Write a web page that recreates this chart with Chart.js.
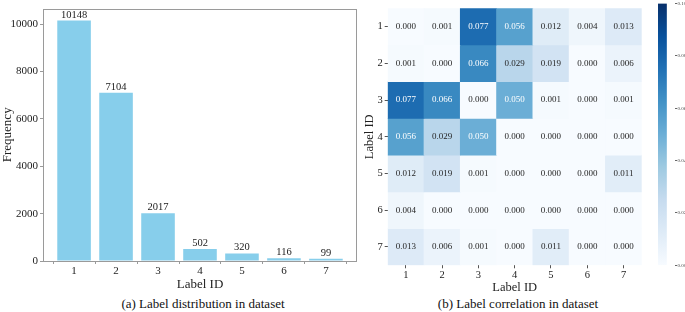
<!DOCTYPE html>
<html><head><meta charset="utf-8">
<script src="https://cdn.jsdelivr.net/npm/chart.js@4/dist/chart.umd.min.js"></script>
<style>
html,body{margin:0;padding:0;background:#fff;width:685px;height:312px;overflow:hidden;}
.box{position:absolute;}
.cap{position:absolute;font-family:"Liberation Serif","Times New Roman",serif;font-size:13px;color:#111;white-space:nowrap;transform:translateX(-50%);}
</style></head>
<body>
<div class="box" style="left:0;top:0;width:362px;height:292px;"><canvas id="bar"></canvas></div>
<div class="box" style="left:362px;top:0;width:293px;height:295px;"><canvas id="heat"></canvas></div>
<div class="box" style="left:645px;top:0;width:40px;height:295px;"><canvas id="cbar"></canvas></div>
<div class="cap" style="left:203px;top:296px;">(a) Label distribution in dataset</div>
<div class="cap" style="left:518px;top:296px;">(b) Label correlation in dataset</div>
<script>
// ---- data ----
const labelIds = ['1','2','3','4','5','6','7'];
const frequency = [10148, 7104, 2017, 502, 320, 116, 99];
const freqTicks = [0, 2000, 4000, 6000, 8000, 10000];
const corrRow1 = [0.000, 0.001, 0.077, 0.056, 0.012, 0.004, 0.013];
const corrRow2 = [0.001, 0.000, 0.066, 0.029, 0.019, 0.000, 0.006];
const corrRow3 = [0.077, 0.066, 0.000, 0.050, 0.001, 0.000, 0.001];
const corrRow4 = [0.056, 0.029, 0.050, 0.000, 0.000, 0.000, 0.000];
const corrRow5 = [0.012, 0.019, 0.001, 0.000, 0.000, 0.000, 0.011];
const corrRow6 = [0.004, 0.000, 0.000, 0.000, 0.000, 0.000, 0.000];
const corrRow7 = [0.013, 0.006, 0.001, 0.000, 0.011, 0.000, 0.000];
const corrRows = [corrRow1, corrRow2, corrRow3, corrRow4, corrRow5, corrRow6, corrRow7];
const colorbarTicks = [0.00, 0.02, 0.04, 0.06, 0.08, 0.10];

const SERIF = '"Liberation Serif","Times New Roman",serif';
const TXT = '#222';

// Blues colormap
const blues = ['#f7fbff','#deebf7','#c6dbef','#9ecae1','#6baed6','#4292c6','#2171b5','#08519c','#08306b'];
function hex(h){return [parseInt(h.substr(1,2),16),parseInt(h.substr(3,2),16),parseInt(h.substr(5,2),16)];}
function bluesRGB(t){
  t=Math.max(0,Math.min(1,t));
  const p=t*(blues.length-1); const i=Math.min(Math.floor(p),blues.length-2); const f=p-i;
  const a=hex(blues[i]), b=hex(blues[i+1]);
  return a.map((v,k)=>Math.round(v+(b[k]-v)*f));
}
function rgbStr(c){return 'rgb('+c[0]+','+c[1]+','+c[2]+')';}
function lum(c){
  const l=c.map(v=>{v/=255;return v<=0.03928?v/12.92:Math.pow((v+0.055)/1.055,2.4);});
  return 0.2126*l[0]+0.7152*l[1]+0.0722*l[2];
}
const VMAX = 0.10;

// ---- bar chart ----
const framePlugin = {
  id:'frame',
  afterDatasetsDraw(chart){
    const a=chart.chartArea, ctx=chart.ctx;
    ctx.save(); ctx.strokeStyle='#9a9a9a'; ctx.lineWidth=1;
    ctx.strokeRect(Math.round(a.left)+0.5, Math.round(a.top)+0.5, Math.round(a.right-a.left)-1, Math.round(a.bottom-a.top));
    ctx.restore();
  }
};
const barLabelPlugin = {
  id:'barLabels',
  afterDatasetsDraw(chart){
    const ctx=chart.ctx; const meta=chart.getDatasetMeta(0);
    ctx.save(); ctx.font='10.5px '+SERIF; ctx.fillStyle=TXT; ctx.textAlign='center'; ctx.textBaseline='bottom';
    meta.data.forEach((el,i)=>{ ctx.fillText(String(frequency[i]), el.x, el.y-0.5); });
    ctx.restore();
  }
};
new Chart(document.getElementById('bar'), {
  type:'bar',
  data:{ datasets:[{ data: frequency.map((v,i)=>({x:Number(labelIds[i]), y:v})), backgroundColor:'#87ceeb', borderWidth:0, barPercentage:0.8, categoryPercentage:1 }]},
  options:{
    responsive:true, maintainAspectRatio:false, animation:false, devicePixelRatio:1,
    layout:{padding:{top:2,right:5,left:0,bottom:0}},
    plugins:{legend:{display:false},tooltip:{enabled:false}},
    scales:{
      x:{ type:'linear', min:0.26, max:7.74, offset:false,
          afterBuildTicks(s){ s.ticks = labelIds.map(l=>({value:Number(l)})); },
          ticks:{ font:{family:SERIF,size:11}, color:TXT, padding:1, callback:(v)=>labelIds[v-1] },
          grid:{ display:true, drawOnChartArea:false, drawTicks:true, tickLength:3, color:'#9a9a9a' },
          border:{display:false},
          title:{ display:true, text:'Label ID', font:{family:SERIF,size:13}, color:TXT, padding:{top:1,bottom:0} },
          afterFit(s){ s.height = 31; }
      },
      y:{ min:0, max:10655,
          afterBuildTicks(s){ s.ticks = freqTicks.map(v=>({value:v})); },
          ticks:{ font:{family:SERIF,size:11}, color:TXT, padding:2, callback:(v)=>String(v) },
          grid:{ display:true, drawOnChartArea:false, drawTicks:true, tickLength:3, color:'#9a9a9a' },
          border:{display:false},
          title:{ display:true, text:'Frequency', font:{family:SERIF,size:13}, color:TXT, padding:{top:0,bottom:0} },
          afterFit(s){ s.width = 43; }
      }
    }
  },
  plugins:[framePlugin, barLabelPlugin]
});

// ---- heatmap ----
const heatDatasets = corrRows.map((row,r)=>({
  data: row.map(()=>[r+0.5, r+1.5]),
  backgroundColor: row.map(v=>rgbStr(bluesRGB(v/VMAX))),
  borderWidth:0, barPercentage:1, categoryPercentage:1, grouped:false
}));
const cellTextPlugin = {
  id:'cellText',
  afterDatasetsDraw(chart){
    const ctx=chart.ctx;
    ctx.save(); ctx.font='9px '+SERIF; ctx.textAlign='center'; ctx.textBaseline='middle';
    corrRows.forEach((row,r)=>{
      const meta=chart.getDatasetMeta(r);
      meta.data.forEach((el,c)=>{
        const v=row[c]; const col=bluesRGB(v/VMAX);
        ctx.fillStyle = lum(col)>0.408 ? '#262626' : '#ffffff';
        ctx.fillText(v.toFixed(3), el.x, (el.y+el.base)/2);
      });
    });
    ctx.restore();
  }
};
new Chart(document.getElementById('heat'), {
  type:'bar',
  data:{ labels: labelIds, datasets: heatDatasets },
  options:{
    responsive:true, maintainAspectRatio:false, animation:false, devicePixelRatio:1,
    layout:{padding:{top:1.7,right:13.3,left:0,bottom:0}},
    plugins:{legend:{display:false},tooltip:{enabled:false}},
    scales:{
      x:{ type:'category', offset:true,
          ticks:{ font:{family:SERIF,size:10.5}, color:TXT, padding:1 },
          grid:{ display:true, offset:false, drawOnChartArea:false, drawTicks:true, tickLength:3, color:'#555' },
          border:{display:false},
          title:{ display:true, text:'Label ID', font:{family:SERIF,size:12.5}, color:TXT, padding:{top:0,bottom:0} },
          afterFit(s){ s.height = 29.7; }
      },
      y:{ type:'linear', reverse:true, min:0.5, max:7.5,
          afterBuildTicks(s){ s.ticks = labelIds.map(l=>({value:Number(l)})); },
          ticks:{ font:{family:SERIF,size:10.5}, color:TXT, padding:2, callback:(v)=>labelIds[v-1] },
          grid:{ display:true, drawOnChartArea:false, drawTicks:true, tickLength:3, color:'#555' },
          border:{display:false},
          title:{ display:true, text:'Label ID', font:{family:SERIF,size:12.5}, color:TXT, padding:{top:0,bottom:0} },
          afterFit(s){ s.width = 25.7; }
      }
    }
  },
  plugins:[cellTextPlugin]
});

// ---- colorbar ----
new Chart(document.getElementById('cbar'), {
  type:'bar',
  data:{ labels:[''], datasets:[{ data:[[0, VMAX]], borderWidth:0, barPercentage:1, categoryPercentage:1,
    backgroundColor(ctx){
      const a=ctx.chart.chartArea; if(!a) return '#6baed6';
      const g=ctx.chart.ctx.createLinearGradient(0,a.bottom,0,a.top);
      blues.forEach((c,i)=>g.addColorStop(i/(blues.length-1), c));
      return g;
    } }]},
  options:{
    responsive:true, maintainAspectRatio:false, animation:false, devicePixelRatio:1,
    layout:{padding:{top:1.7,right:0,left:13,bottom:29.7}},
    plugins:{legend:{display:false},tooltip:{enabled:false}},
    scales:{
      x:{ display:false, offset:false },
      y:{ position:'right', min:0, max:VMAX,
          afterBuildTicks(s){ s.ticks = colorbarTicks.map(v=>({value:v})); },
          ticks:{ font:{family:SERIF,size:5}, color:'#444', padding:0.5, callback:(v)=>Number(v).toFixed(2) },
          grid:{ display:true, drawOnChartArea:false, drawTicks:true, tickLength:2, color:'#666' },
          border:{display:false},
          afterFit(s){ s.width = 10; }
      }
    }
  }
});
</script>
</body></html>
